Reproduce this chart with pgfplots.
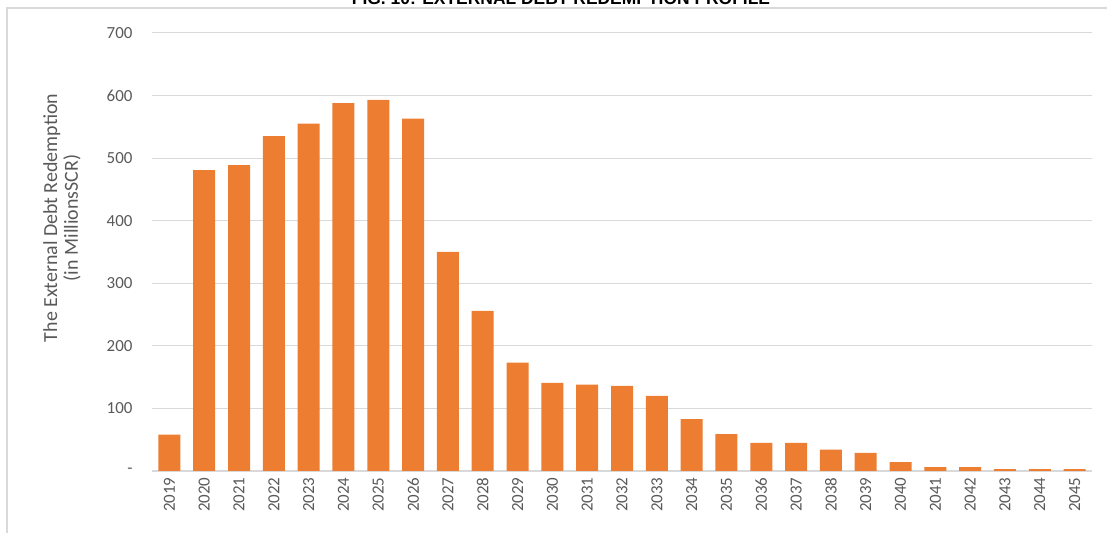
\documentclass[border=0pt]{standalone}
\usepackage{pgfplots}
\pgfplotsset{compat=1.18}
\usepackage{fontspec}
\setmainfont{Carlito}
\newfontfamily\arialfont{Liberation Sans}
\definecolor{barorange}{HTML}{ED7D31}
\definecolor{txtgray}{HTML}{595959}
\definecolor{gridgray}{HTML}{D9D9D9}
\definecolor{bordergray}{HTML}{D9D9D9}
\pgfplotstableread{
x val
0 58
1 481
2 489
3 535
4 555
5 588
6 593
7 563
8 350
9 256
10 173
11 141
12 138
13 136
14 120
15 83
16 59
17 45
18 45
19 34
20 29
21 14
22 6
23 6
24 3
25 3
26 3
}\debt
\begin{document}
\begin{tikzpicture}[x=1bp,y=1bp]
\useasboundingbox (0,0) rectangle (1107,533);
\begin{scope}
\clip (0,0) rectangle (1107,533);
\draw[bordergray, line width=1.5bp] (7,-5) -- (7,525) -- (1115,525);
\node[font=\arialfont\bfseries\fontsize{17.5}{17.5}\selectfont, anchor=base] at (561,528) {FIG. 10: EXTERNAL DEBT REDEMPTION PROFILE};
\end{scope}
\begin{axis}[
  at={(152bp,62bp)}, anchor=south west,
  scale only axis, width=940bp, height=438bp,
  xmin=-0.5, xmax=26.5, ymin=0, ymax=700,
  ytick={0,100,...,700},
  yticklabels={-,100,200,300,400,500,600,700},
  xtick={0,...,26},
  xticklabels={2019,2020,2021,2022,2023,2024,2025,2026,2027,2028,2029,2030,2031,2032,2033,2034,2035,2036,2037,2038,2039,2040,2041,2042,2043,2044,2045},
  x tick label style={rotate=90, anchor=east, font=\fontsize{17}{17}\selectfont, text=txtgray},
  y tick label style={font=\fontsize{17}{17}\selectfont, text=txtgray},
  xticklabel shift=3bp, yticklabel shift=16bp,
  major tick length=0pt,
  ymajorgrids, grid style={gridgray, line width=1bp},
  axis x line*=bottom, axis y line*=left,
  x axis line style={gridgray, line width=1.2bp},
  y axis line style={draw=none},
  /pgf/number format/assume math mode=true,
  clip=false,
]
\addplot[ybar, bar width=22bp, fill=barorange, draw=none] table[x=x,y=val] {\debt};
\end{axis}
\node[rotate=90, align=center, text=txtgray, font=\fontsize{20}{21}\selectfont] at (62,315) {The External Debt Redemption\\(in MillionsSCR)};
\end{tikzpicture}
\end{document}
